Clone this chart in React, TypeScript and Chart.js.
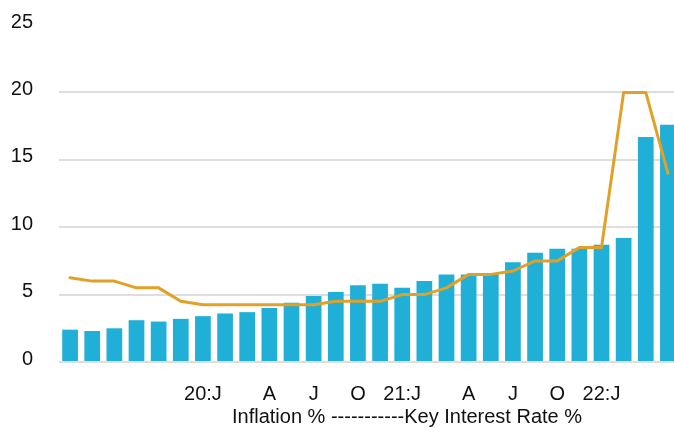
import React, { useEffect, useRef } from "react";
import { Chart, registerables } from "chart.js";

Chart.register(...registerables);

// Monthly categories (Jan 2020 – Apr 2022)
const months: string[] = [
  "2020-01", "2020-02", "2020-03", "2020-04", "2020-05", "2020-06",
  "2020-07", "2020-08", "2020-09", "2020-10", "2020-11", "2020-12",
  "2021-01", "2021-02", "2021-03", "2021-04", "2021-05", "2021-06",
  "2021-07", "2021-08", "2021-09", "2021-10", "2021-11", "2021-12",
  "2022-01", "2022-02", "2022-03", "2022-04",
];

// Tick labels as shown under the axis
const tickLabels: string[] = [
  "", "", "", "", "", "", "20:J", "", "", "A", "", "J", "", "O",
  "", "21:J", "", "", "A", "", "J", "", "O", "", "22:J", "", "", "",
];

// Inflation % (bars)
const inflation: number[] = [
  2.4, 2.3, 2.5, 3.1, 3.0, 3.2, 3.4, 3.6, 3.7, 4.0, 4.4, 4.9, 5.2, 5.7,
  5.8, 5.5, 6.0, 6.5, 6.5, 6.6, 7.4, 8.1, 8.4, 8.4, 8.7, 9.2, 16.7, 17.6,
];

// Key interest rate % (line)
const keyRate: number[] = [
  6.25, 6.0, 6.0, 5.5, 5.5, 4.5, 4.25, 4.25, 4.25, 4.25, 4.25, 4.25, 4.5, 4.5,
  4.5, 5.0, 5.0, 5.5, 6.5, 6.5, 6.75, 7.5, 7.5, 8.5, 8.5, 20, 20, 14,
];

const legendText = "Inflation % -----------Key Interest Rate %";

const FONT = '"Liberation Sans", Arial, sans-serif';

export default function App() {
  const ref = useRef<HTMLCanvasElement>(null);

  useEffect(() => {
    document.body.style.margin = "0";
    const canvas = ref.current;
    if (!canvas) return;
    const chart = new Chart(canvas, {
      data: {
        labels: months,
        datasets: [
          {
            type: "line",
            label: "Key Interest Rate %",
            data: keyRate,
            borderColor: "#e2a126",
            borderWidth: 3,
            pointRadius: 0,
            tension: 0,
            borderJoinStyle: "round",
            borderCapStyle: "round",
            order: 0,
          },
          {
            type: "bar",
            label: "Inflation %",
            data: inflation,
            backgroundColor: "#20afd6",
            barPercentage: 0.71,
            categoryPercentage: 1,
            order: 1,
          },
        ],
      } as any,
      options: {
        responsive: false,
        animation: false,
        layout: { padding: { left: 12, right: 0, top: 25, bottom: 2 } },
        plugins: {
          legend: { display: false },
          tooltip: { enabled: false },
        },
        scales: {
          x: {
            grid: { display: false, drawTicks: false },
            border: { display: false },
            afterFit: (s: any) => {
              s.paddingLeft = 0;
              s.paddingRight = 0;
            },
            ticks: {
              autoSkip: false,
              maxRotation: 0,
              padding: 20,
              color: "#111",
              font: { family: FONT, size: 20 },
              callback: (_v: any, i: number) => tickLabels[i],
            },
          },
          y: {
            min: 0,
            max: 25,
            afterFit: (s: any) => {
              s.width = 47;
              s.paddingTop = 0;
              s.paddingBottom = 0;
            },
            grid: {
              drawTicks: false,
              lineWidth: 2,
              color: (ctx: any) =>
                ctx.tick && ctx.tick.value === 25 ? "rgba(0,0,0,0)" : "#dedede",
            },
            border: { display: false },
            ticks: {
              stepSize: 5,
              padding: 26,
              labelOffset: -3,
              color: "#111",
              font: { family: FONT, size: 20 },
            },
          },
        },
      },
    });
    return () => chart.destroy();
  }, []);

  return (
    <div
      style={{
        position: "fixed",
        left: 0,
        top: 0,
        width: 674,
        height: 428,
        overflow: "hidden",
        background: "#fff",
      }}
    >
      <canvas ref={ref} width={679} height={428} style={{ display: "block" }} />
      <div
        style={{
          position: "absolute",
          left: 232,
          top: 406,
          fontFamily: FONT,
          fontSize: 20,
          lineHeight: "20px",
          color: "#111",
          whiteSpace: "pre",
        }}
      >
        {legendText}
      </div>
    </div>
  );
}
